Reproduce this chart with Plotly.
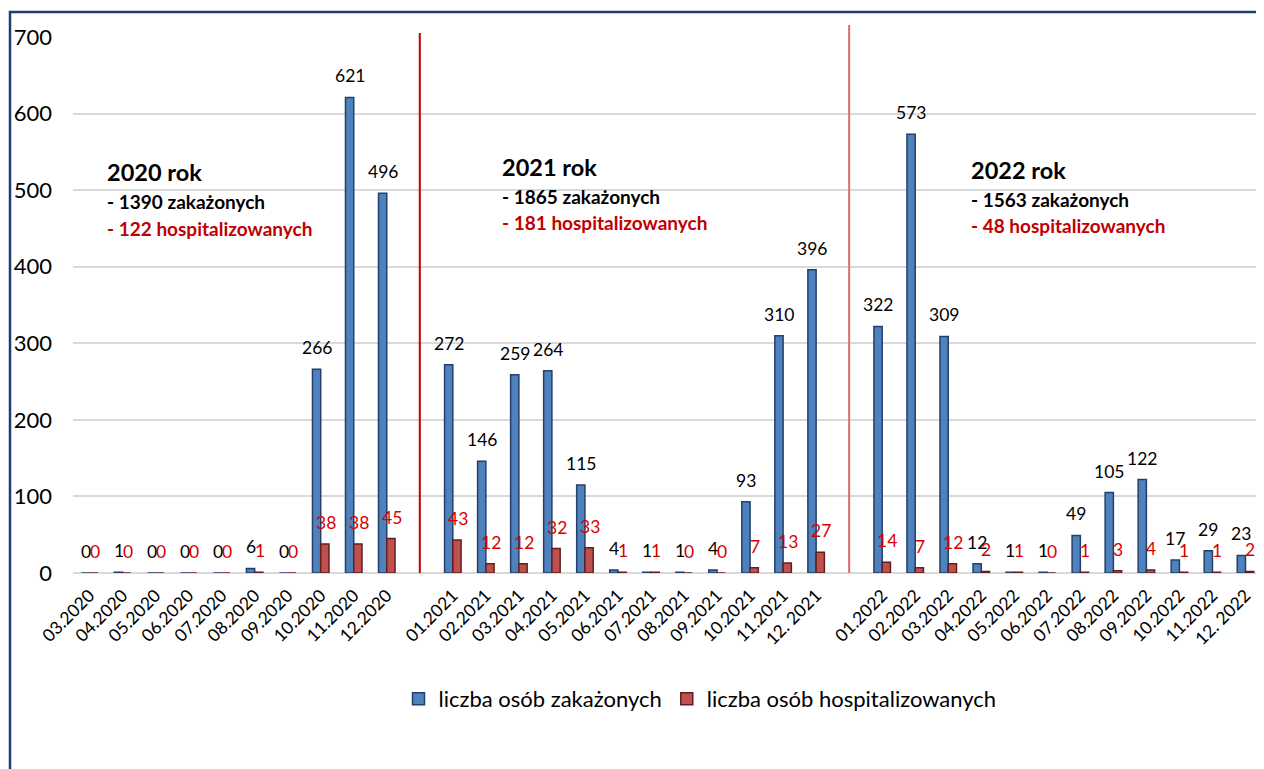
"""Zakażenia i hospitalizacje 2020-2022 — Excel-style grouped bars."""

import plotly.graph_objects as go

months = [
    "03.2020", "04.2020", "05.2020", "06.2020", "07.2020", "08.2020", "09.2020",
    "10.2020", "11.2020", "12.2020", "",
    "01.2021", "02.2021", "03.2021", "04.2021", "05.2021", "06.2021", "07.2021",
    "08.2021", "09.2021", "10.2021", "11.2021", "12. 2021", "",
    "01.2022", "02.2022", "03.2022", "04.2022", "05.2022", "06.2022", "07.2022",
    "08.2022", "09.2022", "10.2022", "11.2022", "12. 2022",
]
infected = [
    0, 1, 0, 0, 0, 6, 0, 266, 621, 496, None,
    272, 146, 259, 264, 115, 4, 1, 1, 4, 93, 310, 396, None,
    322, 573, 309, 12, 1, 1, 49, 105, 122, 17, 29, 23,
]
hospitalized = [
    0, 0, 0, 0, 0, 1, 0, 38, 38, 45, None,
    43, 12, 12, 32, 33, 1, 1, 0, 0, 7, 13, 27, None,
    14, 7, 12, 2, 1, 0, 1, 3, 4, 1, 1, 2,
]
year_titles = ["2020 rok", "2021 rok", "2022 rok"]
year_infected = ["- 1390 zakażonych", "- 1865 zakażonych", "- 1563 zakażonych"]
year_hosp = ["- 122 hospitalizowanych", "- 181 hospitalizowanych", "- 48 hospitalizowanych"]

_FONT = "Lato, 'Open Sans', sans-serif"
_BLUE = "#4F81BD"
_BLUE_EDGE = "#22406B"
_RED = "#C0504D"
_RED_EDGE = "#5E2120"
_LABEL_RED = "#D80000"
_TEXT_RED = "#C00000"

# the page body has an 8px margin, so the figure is drawn 8px smaller and
# every screen position below is given in window pixels minus that offset
OFF = 8
W, H = 1264 - OFF, 769 - OFF
L, R, T = 73 - OFF, 2, 37 - OFF
B = H - (573 - OFF)
PW, PH = W - L - R, H - T - B


def px_x(x):
    return (x - OFF - L) / PW


def px_y(y):
    return (H - B - (y - OFF)) / PH


idx = list(range(len(months)))
breaks = [i for i, m in enumerate(months) if m == ""]

fig = go.Figure()
fig.add_trace(go.Bar(
    x=idx, y=infected, name="liczba osób zakażonych",
    marker=dict(color=_BLUE, line=dict(color=_BLUE_EDGE, width=1.5)),
))
fig.add_trace(go.Bar(
    x=idx, y=hospitalized, name="liczba osób hospitalizowanych",
    marker=dict(color=_RED, line=dict(color=_RED_EDGE, width=1.5)),
))

annotations = []
for i, v, h in zip(idx, infected, hospitalized):
    if v is None:
        continue
    annotations.append(dict(
        x=i, y=v, text=str(v), showarrow=False, xshift=-4, yshift=9,
        yanchor="bottom", font=dict(family=_FONT, size=17.5, color="#000000"),
    ))
    annotations.append(dict(
        x=i, y=h, text=str(h), showarrow=False, xshift=5, yshift=9,
        yanchor="bottom", font=dict(family=_FONT, size=17.5, color=_LABEL_RED),
    ))

# year summaries
for (left, ys), title, inf, hosp in zip(
    [(105, (172, 201, 228)), (500, (167, 196, 222)), (969, (170, 199, 225))],
    year_titles, year_infected, year_hosp,
):
    annotations.append(dict(
        xref="paper", yref="paper", x=px_x(left), y=px_y(ys[0]), xanchor="left",
        yanchor="middle", showarrow=False, text=f"<b>{title}</b>",
        font=dict(family=_FONT, size=23.5, color="#000000"),
    ))
    annotations.append(dict(
        xref="paper", yref="paper", x=px_x(left), y=px_y(ys[1]), xanchor="left",
        yanchor="middle", showarrow=False, text=f"<b>{inf}</b>",
        font=dict(family=_FONT, size=19, color="#000000"),
    ))
    annotations.append(dict(
        xref="paper", yref="paper", x=px_x(left), y=px_y(ys[2]), xanchor="left",
        yanchor="middle", showarrow=False, text=f"<b>{hosp}</b>",
        font=dict(family=_FONT, size=19, color=_TEXT_RED),
    ))

shapes = [
    # outer frame
    dict(type="rect", xref="paper", yref="paper",
         x0=px_x(10), x1=px_x(1285), y0=px_y(800), y1=px_y(12),
         line=dict(color="#1F3A7A", width=2.5), layer="below"),
    # year separators
    dict(type="line", xref="x", yref="paper", x0=breaks[0], x1=breaks[0],
         y0=0, y1=px_y(33), line=dict(color="#C00000", width=2)),
    dict(type="line", xref="x", yref="paper", x0=breaks[1], x1=breaks[1],
         y0=0, y1=px_y(25), line=dict(color="#E06A6A", width=2)),
]

fig.update_layout(
    width=W, height=H,
    paper_bgcolor="#FFFFFF", plot_bgcolor="#FFFFFF",
    margin=dict(l=L, r=R, t=T, b=B, autoexpand=False),
    barmode="group", bargap=0.5, bargroupgap=0,
    font=dict(family=_FONT, color="#000000"),
    annotations=annotations, shapes=shapes,
    legend=dict(
        orientation="h", x=px_x(700), xanchor="center", y=px_y(699), yanchor="middle",
        font=dict(family=_FONT, size=22, color="#000000"), itemwidth=30,
    ),
)
fig.update_xaxes(
    range=[-0.5, len(months) - 0.5], tickmode="array", tickvals=idx, ticktext=months,
    tickangle=-45, tickfont=dict(family=_FONT, size=17.5, color="#000000"),
    showgrid=False, showline=False, ticks="", zeroline=False, ticklabelstandoff=8,
)
fig.update_yaxes(
    range=[0, 700], dtick=100, tickfont=dict(family=_FONT, size=22, color="#000000"),
    gridcolor="#D9D9D9", gridwidth=2, zeroline=True, zerolinecolor="#D9D9D9",
    zerolinewidth=2, showline=False, ticks="", ticklabelstandoff=20,
)

fig.write_html("out.html")
